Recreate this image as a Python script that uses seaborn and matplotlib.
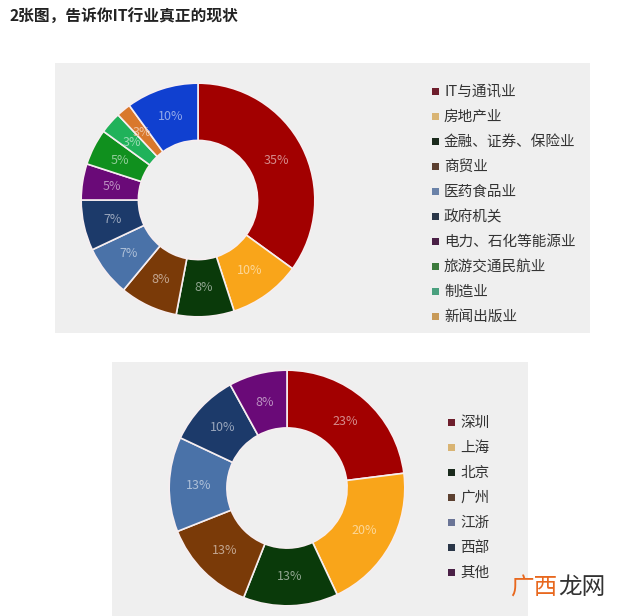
import numpy as np
import matplotlib
matplotlib.use("Agg")
import matplotlib.pyplot as plt
import matplotlib.colors as mcolors
from matplotlib.patches import Rectangle
import seaborn as sns

W, H = 640, 616

title = "2张图，告诉你IT行业真正的现状"

industry_names = ["IT与通讯业", "房地产业", "金融、证券、保险业", "商贸业", "医药食品业",
                  "政府机关", "电力、石化等能源业", "旅游交通民航业", "制造业", "新闻出版业"]
industry_shares = [35, 10, 8, 8, 7, 7, 5, 5, 3, 2, 10]
industry_labels = ["35%", "10%", "8%", "8%", "7%", "7%", "5%", "5%", "3%", "3%", "10%"]
industry_colors = ["#A20000", "#F9A51A", "#0A3A0A", "#7A3A08", "#4A72A8", "#1C3A6A",
                   "#6A0A78", "#10901E", "#20B25A", "#D9782C", "#1040D0"]
industry_legend_colors = ["#6E1E2C", "#D9B473", "#1A2A1C", "#5C4030", "#6A82A8",
                          "#2A3648", "#4A2046", "#3C7A3C", "#4AA07E", "#C89A58"]

city_names = ["深圳", "上海", "北京", "广州", "江浙", "西部", "其他"]
city_shares = [23, 20, 13, 13, 13, 10, 8]
city_labels = ["23%", "20%", "13%", "13%", "13%", "10%", "8%"]
city_colors = ["#A20000", "#F9A51A", "#0A3A0A", "#7A3A08", "#4A72A8", "#1C3A6A", "#6A0A78"]
city_legend_colors = ["#6E1E2C", "#D9B473", "#1A2A1C", "#5C4030", "#6A7496", "#2A3648", "#4A2046"]

sns.set_theme(style="white")
plt.rcParams["font.family"] = ["Noto Sans CJK SC", "DejaVu Sans"]

fig = plt.figure(figsize=(W / 100, H / 100), dpi=100)
fig.patch.set_facecolor("white")


def px_rect(x0, y0, x1, y1):
    # pixel box (top-left origin) -> figure fraction
    return [x0 / W, (H - y1) / H, (x1 - x0) / W, (y1 - y0) / H]


def tint(c, amount=0.6):
    rgb = np.array(mcolors.to_rgb(c))
    return tuple(rgb + (1 - rgb) * amount)


def draw_donut(cx, cy, r, shares, labels, colors):
    ax = fig.add_axes(px_rect(cx - r, cy - r, cx + r, cy + r))
    ax.set_zorder(2)
    wedges, _ = ax.pie(shares, colors=colors, startangle=90, counterclock=False,
                       radius=1.0,
                       wedgeprops=dict(width=0.49, edgecolor="#F6EEF0", linewidth=1.2))
    for w, lab, col in zip(wedges, labels, colors):
        ang = np.deg2rad((w.theta1 + w.theta2) / 2)
        ax.text(0.75 * np.cos(ang), 0.75 * np.sin(ang), lab, ha="center", va="center",
                fontsize=9, color=tint(col, 0.55))
    ax.set_xlim(-1.01, 1.01)
    ax.set_ylim(-1.01, 1.01)
    ax.set_aspect("equal")
    ax.axis("off")
    return ax


def draw_legend(x, y0, step, names, colors):
    for i, (name, col) in enumerate(zip(names, colors)):
        y = y0 + i * step
        fig.add_artist(Rectangle(((x - 4) / W, (H - y - 3) / H), 7 / W, 7 / H,
                                 transform=fig.transFigure, facecolor=col, edgecolor="none"))
        fig.text((x + 8) / W, (H - y) / H, name, ha="left", va="center",
                 fontsize=10.5, color="#333333")


# gray panels, kept behind the donut axes
fig.add_artist(Rectangle((55 / W, (H - 333) / H), (590 - 55) / W, (333 - 63) / H,
                         transform=fig.transFigure, facecolor="#EFEFEF", edgecolor="none",
                         zorder=-10))
fig.add_artist(Rectangle((112 / W, 0), (528 - 112) / W, (H - 362) / H,
                         transform=fig.transFigure, facecolor="#EFEFEF", edgecolor="none",
                         zorder=-10))

# title
fig.text(10 / W, (H - 17) / H, title, ha="left", va="center", fontsize=11.3,
         fontweight="bold", color="#222222")

draw_donut(198, 200, 118, industry_shares, industry_labels, industry_colors)
draw_legend(436, 92, 25, industry_names, industry_legend_colors)

draw_donut(287, 488, 119, city_shares, city_labels, city_colors)
draw_legend(452, 423, 25, city_names, city_legend_colors)

# watermark
fig.text(510 / W, (H - 588) / H, "广西", ha="left", va="center", fontsize=17, color="#E8681E")
fig.text(558 / W, (H - 588) / H, "龙网", ha="left", va="center", fontsize=17, color="#333333")

fig.savefig("out.png", dpi=100, facecolor="white")
